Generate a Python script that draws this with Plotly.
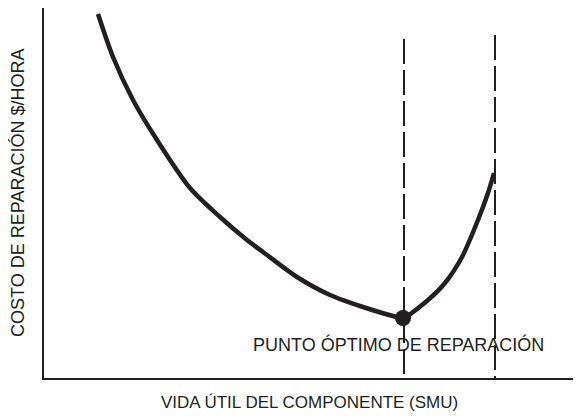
import plotly.graph_objects as go

# curve (abstract units: SMU vs $/hora)
vida = [54, 69, 89, 113, 146, 176, 203, 219, 253, 286, 319, 353, 359,
        384, 401, 418, 434, 444, 450]
costo = [364, 321, 278, 238, 190, 161, 138, 126, 101, 83, 71, 61, 60,
         78, 95, 121, 158, 185, 205]

optimo_x = 359
optimo_y = 60
limites_x = [360, 451]
limites_top = [339, 343]

fig = go.Figure()

# dashed vertical lines (drawn top-down so the dash pattern starts at the top)
for lx, lt in zip(limites_x, limites_top):
    fig.add_trace(go.Scatter(x=[lx, lx], y=[lt, 0], mode="lines",
                             line=dict(color="#231f20", width=2, dash="25px,6px"),
                             showlegend=False, hoverinfo="skip"))

fig.add_trace(go.Scatter(x=vida, y=costo, mode="lines",
                         line=dict(color="#231f20", width=4.5, shape="spline", smoothing=0.8),
                         showlegend=False))

fig.add_trace(go.Scatter(x=[optimo_x], y=[optimo_y], mode="markers",
                         marker=dict(color="#231f20", size=16),
                         showlegend=False))

fig.add_annotation(x=354, y=34, text="PUNTO ÓPTIMO DE REPARACIÓN", showarrow=False,
                   font=dict(size=18, color="#231f20"))

# axis titles as annotations so they sit where the original has them
fig.add_annotation(x=0.5, y=-0.065, xref="paper", yref="paper", showarrow=False,
                   text="VIDA ÚTIL DEL COMPONENTE (SMU)", font=dict(size=17),
                   xanchor="center", yanchor="middle")
fig.add_annotation(x=-0.051, y=0.5, xref="paper", yref="paper", showarrow=False,
                   text="COSTO DE REPARACIÓN $/HORA", font=dict(size=18), textangle=-90,
                   xanchor="center", yanchor="middle")

# page body adds an 8px margin, so the figure is shrunk by that much
fig.update_layout(
    width=573, height=408,
    margin=dict(l=36, r=6, t=0, b=38),
    paper_bgcolor="white", plot_bgcolor="white",
    font=dict(family="Liberation Sans, Arial, sans-serif", color="#231f20"),
    xaxis=dict(range=[0, 531], showline=True, linecolor="#231f20", linewidth=2,
               showgrid=False, zeroline=False, showticklabels=False, ticks=""),
    yaxis=dict(range=[0, 370], showline=True, linecolor="#231f20", linewidth=2,
               showgrid=False, zeroline=False, showticklabels=False, ticks=""),
)

fig.write_html("out.html")
